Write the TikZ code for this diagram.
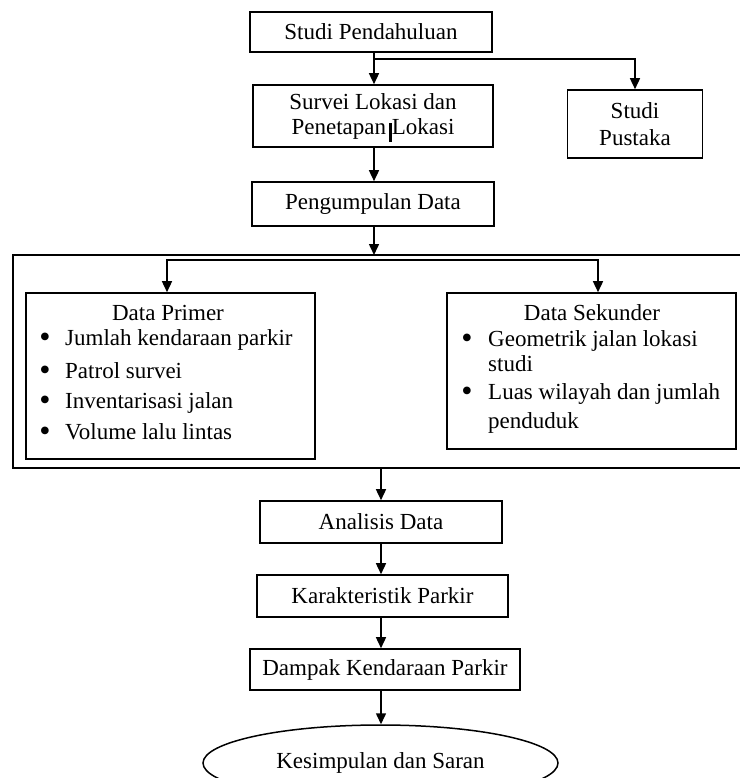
\documentclass[tikz,border=0pt]{standalone}
\usepackage{fontspec}
\setmainfont{Liberation Serif}
\usetikzlibrary{arrows.meta,shapes.geometric}
\begin{document}
\begin{tikzpicture}[x=1pt,y=-1pt,
  font=\fontsize{23}{25}\selectfont,
  fbox/.style={draw,line width=1.6pt,inner sep=0pt,align=center},
  ln/.style={line width=1.5pt},
  tip/.tip={Triangle[length=11pt,width=10pt]},
  arr/.style={line width=1.5pt,-tip},
  itm/.style={anchor=base west,inner sep=0pt},
  bul/.style={anchor=base,inner sep=0pt,font=\fontsize{32}{32}\selectfont},
  ttl/.style={anchor=base,inner sep=0pt}
]
\useasboundingbox (0,0) rectangle (739,778);

% top part
\node[fbox,minimum width=242pt,minimum height=40pt] (sp) at (371,32) {Studi Pendahuluan};
\node[fbox,minimum width=240pt,minimum height=62pt] (slk) at (373,116) {Survei Lokasi dan\\Penetapan Lokasi};
\node[fbox,minimum width=135pt,minimum height=68pt,font=\fontsize{23}{27}\selectfont] (pus) at (635,124) {Studi\\Pustaka};
\node[fbox,minimum width=242pt,minimum height=44pt] (pd) at (373,204) {Pengumpulan Data};
\fill (388.5,123) rectangle (391.5,142);

\coordinate (j1) at (374,59);
\draw[ln] (sp.south -| j1) -- (j1);
\draw[arr] (j1) -- (slk.north -| j1);
\draw[arr] (j1) -| (pus.north);
\draw[arr] (slk.south -| j1) -- (pd.north -| j1);

% group frame (right side runs off the picture)
\coordinate (gtl) at (13,255);
\coordinate (gbl) at (13,468);
\coordinate (gtr) at (745,255);
\coordinate (gbr) at (745,468);
\draw[fbox] (gtr) -- (gtl) -- (gbl) -- (gbr);
\coordinate (gt) at (374,255);
\draw[arr] (pd.south -| j1) -- (gt);

% data boxes
\node[fbox,minimum width=289pt,minimum height=166pt] (dp) at (170.5,376) {};
\node[fbox,minimum width=289pt,minimum height=156pt] (ds) at (591.5,371) {};
\coordinate (bl) at (167,260);
\coordinate (br) at (598,260);
\draw[ln,tip-tip] (dp.north -| bl) -- (bl) -- (br) -- (ds.north -| br);

% Data Primer contents
\node[ttl] (dpt) at (168,320) {Data Primer};
\node[bul] (b1) at (45,347) {\textbullet};
\node[itm] (t1) at (65,345) {Jumlah kendaraan parkir};
\node[bul] (b2) at (45,380) {\textbullet};
\node[itm] (t2) at (65,378) {Patrol survei};
\node[bul] (b3) at (45,410) {\textbullet};
\node[itm] (t3) at (65,408) {Inventarisasi jalan};
\node[bul] (b4) at (45,441) {\textbullet};
\node[itm] (t4) at (65,439) {Volume lalu lintas};

% Data Sekunder contents
\node[ttl] (dst) at (592,320) {Data Sekunder};
\node[bul] (c1) at (467,348) {\textbullet};
\node[itm] (u1) at (488,346) {Geometrik jalan lokasi};
\node[itm] (u1b) at (488,371) {studi};
\node[bul] (c2) at (467,401) {\textbullet};
\node[itm] (u2) at (488,399) {Luas wilayah dan jumlah};
\node[itm] (u2b) at (488,428) {penduduk};

% lower chain
\coordinate (gb) at (381,468);
\node[fbox,minimum width=242pt,minimum height=42pt] (an) at (381,522) {Analisis Data};
\node[fbox,minimum width=251pt,minimum height=42pt] (kp) at (382.5,596) {Karakteristik Parkir};
\node[fbox,minimum width=270pt,minimum height=41pt] (dk) at (385,669.5) {Dampak Kendaraan Parkir};
\node[draw,ellipse,line width=1.5pt,inner sep=0pt,minimum width=355pt,minimum height=76pt] (ks) at (380.5,763) {Kesimpulan dan Saran};

\draw[arr] (gb) -- (an.north -| gb);
\draw[arr] (an.south -| gb) -- (kp.north -| gb);
\draw[arr] (kp.south -| gb) -- (dk.north -| gb);
\draw[arr] (dk.south -| gb) -- (ks.north -| gb);
\end{tikzpicture}
\end{document}
